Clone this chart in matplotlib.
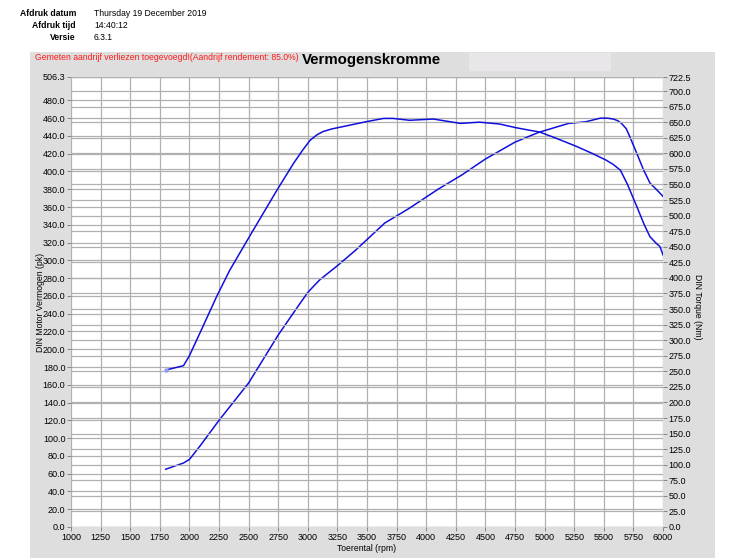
import numpy as np
import matplotlib
matplotlib.use("Agg")
import matplotlib.pyplot as plt
from matplotlib.patches import Rectangle

plt.rcParams['font.family'] = ['Liberation Sans', 'DejaVu Sans']

# =========================================================
# DATA
# =========================================================

rpm_power = [1800, 1950, 2000, 2030, 2100, 2250, 2500, 2750, 2900, 3000, 3100,
             3250, 3400, 3650, 3850, 4100, 4300, 4500, 4750, 4950, 5200, 5350,
             5470, 5530, 5580, 5620, 5650, 5690, 5720, 5780, 5835, 5890, 5950,
             6000]
power_pk = [65, 72, 76, 81, 93, 120, 162, 216, 245, 264, 278,
            294, 311, 342, 358, 380, 396, 414, 433, 444, 454, 456,
            460, 460, 459, 457, 454, 448, 439, 420, 402, 387, 379,
            372]

rpm_torque = [1800, 1950, 2000, 2100, 2230, 2340, 2500, 2740, 2880, 2960, 3020,
              3080, 3130, 3200, 3350, 3500, 3640, 3720, 3860, 4060, 4290, 4450,
              4620, 4760, 4960, 5100, 5270, 5400, 5520, 5580, 5640, 5700, 5780,
              5840, 5890, 5940, 5975, 6000]
torque_nm = [252, 259, 275, 316, 370, 412, 464, 541, 584, 606, 621,
             630, 635, 639, 645, 651, 656, 656, 653, 655, 648, 650,
             647, 641, 634, 624, 611, 600, 589, 582, 573, 550, 514,
             486, 466, 456, 450, 437]

x_ticks = list(range(1000, 6001, 250))
power_ticks = [v * 20.0 for v in range(25)] + [506.3]
torque_ticks = [v * 25.0 for v in range(29)] + [722.5]

header_labels = ['Afdruk datum', 'Afdruk tijd', 'Versie']
header_values = ['Thursday 19 December 2019', '14:40:12', '6.3.1']

# =========================================================
# FIGURE
# =========================================================

fig = plt.figure(figsize=(7.5, 5.6), dpi=100)
W, H = 750, 560
FS = 6.2

# grey panel behind the chart
fig.patches.append(Rectangle((30 / W, 1 - 558 / H), 685 / W, 506 / H,
                             transform=fig.transFigure, facecolor='#dedede',
                             edgecolor='none', zorder=-10))
fig.patches.append(Rectangle((469 / W, 1 - 71 / H), 142 / W, 18 / H,
                             transform=fig.transFigure, facecolor='#e8e6e8',
                             edgecolor='none', zorder=-9))

# header block
for i, (lab, val) in enumerate(zip(header_labels, header_values)):
    yy = 1 - (13 + i * 12.5) / H
    fig.text(76 / W, yy, lab, ha='right', va='center', fontsize=FS,
             fontweight='bold')
    fig.text(94 / W, yy, val, ha='left', va='center', fontsize=FS)

fig.text(35 / W, 1 - 58 / H,
         'Gemeten aandrijf verliezen toegevoegd!(Aandrijf rendement: 85.0%)',
         ha='left', va='center', fontsize=FS, color='#ff1a1a')
fig.text(302 / W, 1 - 60 / H, 'Vermogenskromme', ha='left', va='center',
         fontsize=10.8, fontweight='bold')

ax = fig.add_axes([71 / W, 1 - 527 / H, 592 / W, 450 / H])
ax.set_facecolor('white')
ax.set_xlim(1000, 6000)
ax.set_ylim(0, 506.3)
ax.set_xticks(x_ticks)
ax.set_xticklabels([str(t) for t in x_ticks])
ax.set_yticks(power_ticks)
ax.set_yticklabels(['%.1f' % t for t in power_ticks])
ax.grid(True, color='#b0b0b0', linewidth=0.9)
ax.set_axisbelow(True)

ax2 = ax.twinx()
ax2.set_ylim(0, 722.5)
ax2.set_yticks(torque_ticks)
ax2.set_yticklabels(['%.1f' % t for t in torque_ticks])
ax2.yaxis.grid(True, color='#b0b0b0', linewidth=0.9)
ax2.set_axisbelow(True)

for a in (ax, ax2):
    for s in a.spines.values():
        s.set_visible(False)
    a.tick_params(labelsize=FS + 0.3, length=3, width=0.6, color='#777777', pad=1)

ax.plot(rpm_power, power_pk, color='#1010dd', linewidth=1.1, zorder=5)
ax2.plot(rpm_torque, torque_nm, color='#1010dd', linewidth=1.1, zorder=5)
ax2.plot(rpm_torque[:1], torque_nm[:1], marker='o', markersize=2.2,
         color='#9999ff', linestyle='none', zorder=6)

ax.set_xlabel('Toerental (rpm)', fontsize=FS, labelpad=2)
ax.set_ylabel('DIN Motor Vermogen (pk)', fontsize=FS, labelpad=-1.5)
ax2.set_ylabel('DIN Torque (Nm)', fontsize=FS, rotation=270, va='center')
ax2.yaxis.set_label_coords(1.059, 0.49)

fig.savefig('out.png', dpi=100)
